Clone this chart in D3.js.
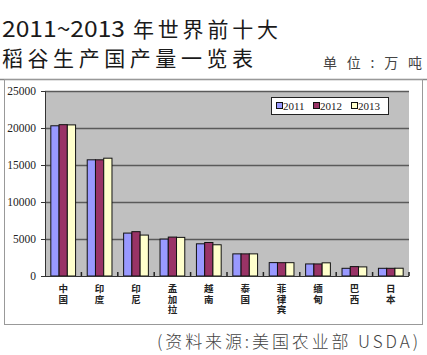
<!DOCTYPE html>
<html><head><meta charset="utf-8">
<script src="https://cdn.jsdelivr.net/npm/d3@7"></script>
<style>
html,body{margin:0;padding:0;background:#fff;}
svg{display:block;}
</style></head>
<body>
<svg id="c" width="427" height="355"></svg>
<script>
const categories = ["中国","印度","印尼","孟加拉","越南","泰国","菲律宾","缅甸","巴西","日本"];
const years = ["2011","2012","2013"];
const v2011 = [20300,15700,5800,4990,4350,2990,1810,1630,1040,1040];
const v2012 = [20450,15700,5990,5260,4530,2990,1800,1630,1270,1040];
const v2013 = [20420,15920,5530,5220,4220,2990,1800,1780,1230,1050];
const yTicks = [0,5000,10000,15000,20000,25000];
const colors = ["#9999ff","#993366","#ffffcc"];

const series = [v2011, v2012, v2013];
const svg = d3.select("#c");

// title
const tfont = "'Noto Sans CJK SC', sans-serif";
svg.append("text").attr("x",2).attr("y",37).attr("font-family",tfont).attr("font-size",22)
  .attr("fill","#1a1a1a").attr("textLength",123).attr("lengthAdjust","spacingAndGlyphs").text("2011~2013");
svg.append("text").attr("x",133).attr("y",37).attr("font-family",tfont).attr("font-size",21)
  .attr("fill","#1a1a1a").attr("textLength",145).attr("lengthAdjust","spacing").text("年世界前十大");
svg.append("text").attr("x",2).attr("y",66).attr("font-family",tfont).attr("font-size",21)
  .attr("fill","#1a1a1a").attr("textLength",251).attr("lengthAdjust","spacing").text("稻谷生产国产量一览表");
svg.append("text").attr("x",323).attr("y",68).attr("font-family",tfont).attr("font-size",14)
  .attr("fill","#444").attr("textLength",99).attr("lengthAdjust","spacing").text("单位:万吨");

// frame
svg.append("line").attr("x1",0).attr("x2",427).attr("y1",79.5).attr("y2",79.5).attr("stroke","#888").attr("stroke-width",1.5);
svg.append("rect").attr("x",4.5).attr("y",79.5).attr("width",418).attr("height",245)
  .attr("fill","none").attr("stroke","#999").attr("stroke-width",1);

// source
svg.append("text").attr("x",157).attr("y",348).attr("font-family",tfont).attr("font-size",17).attr("font-weight",300)
  .attr("fill","#444").attr("textLength",261).attr("lengthAdjust","spacing").text("(资料来源:美国农业部 USDA)");

// plot
const L=45, R=409, T=91, B=276;
const y = d3.scaleLinear().domain([0,25000]).range([B,T]);
const x0 = d3.scaleBand().domain(categories).range([L,R]).padding(0);
const bw = x0.bandwidth();
const x1 = d3.scaleBand().domain(years).range([bw*0.16, bw*0.84]).padding(0);

svg.append("rect").attr("x",L).attr("y",T).attr("width",R-L).attr("height",B-T).attr("fill","#c0c0c0");

// gridlines
svg.append("g").selectAll("line").data(yTicks.filter(d=>d>0)).join("line")
  .attr("x1",L).attr("x2",R).attr("y1",d=>Math.round(y(d))+0.5).attr("y2",d=>Math.round(y(d))+0.5)
  .attr("stroke","#5a5a5a").attr("stroke-width",1.3);

// y axis
const ya = svg.append("g").attr("transform",`translate(${L},0)`)
  .call(d3.axisLeft(y).tickValues(yTicks).tickSize(4).tickPadding(5).tickFormat(d3.format("d")));
ya.select(".domain").attr("stroke","#333");
ya.selectAll(".tick line").attr("stroke","#333");
ya.selectAll("text").attr("font-family","'Liberation Serif', serif").attr("font-size",11.5).attr("fill","#222");

// bars
const g = svg.append("g");
categories.forEach((c,i)=>{
  years.forEach((yr,j)=>{
    const v = series[j][i];
    g.append("rect")
      .attr("x",x0(c)+x1(yr)).attr("y",y(v)).attr("width",x1.bandwidth()).attr("height",B-y(v))
      .attr("fill",colors[j]).attr("stroke","#111").attr("stroke-width",1);
  });
});

// x axis
const xa = svg.append("g").attr("transform",`translate(0,${B})`);
xa.append("line").attr("x1",L).attr("x2",R).attr("y1",0.5).attr("y2",0.5).attr("stroke","#333").attr("stroke-width",1.2);
const bounds = d3.range(1,categories.length+1).map(i=>L+i*bw);
xa.selectAll(".tk").data(bounds).join("line").attr("class","tk")
  .attr("x1",d=>d).attr("x2",d=>d).attr("y1",0).attr("y2",-4).attr("stroke","#222").attr("stroke-width",1.5);

// category labels (vertical text)
svg.append("g").selectAll("text").data(categories).join("text")
  .attr("x",d=>x0(d)+bw/2).attr("y",284)
  .style("writing-mode","vertical-rl")
  .attr("font-family",tfont).attr("font-size",9.5).attr("font-weight",700)
  .attr("letter-spacing",1).attr("fill","#222")
  .text(d=>d);

// legend
const lg = svg.append("g");
lg.append("rect").attr("x",271.5).attr("y",97.5).attr("width",117).attr("height",17)
  .attr("fill","#fff").attr("stroke","#222").attr("stroke-width",1);
const lx = [276,313,351];
years.forEach((yr,j)=>{
  lg.append("rect").attr("x",lx[j]+0.5).attr("y",102.5).attr("width",6).attr("height",6)
    .attr("fill",colors[j]).attr("stroke","#111");
  lg.append("text").attr("x",lx[j]+7).attr("y",110).attr("font-family","'Liberation Serif', serif")
    .attr("font-size",11).attr("fill","#222").text(yr);
});
</script>
</body></html>
